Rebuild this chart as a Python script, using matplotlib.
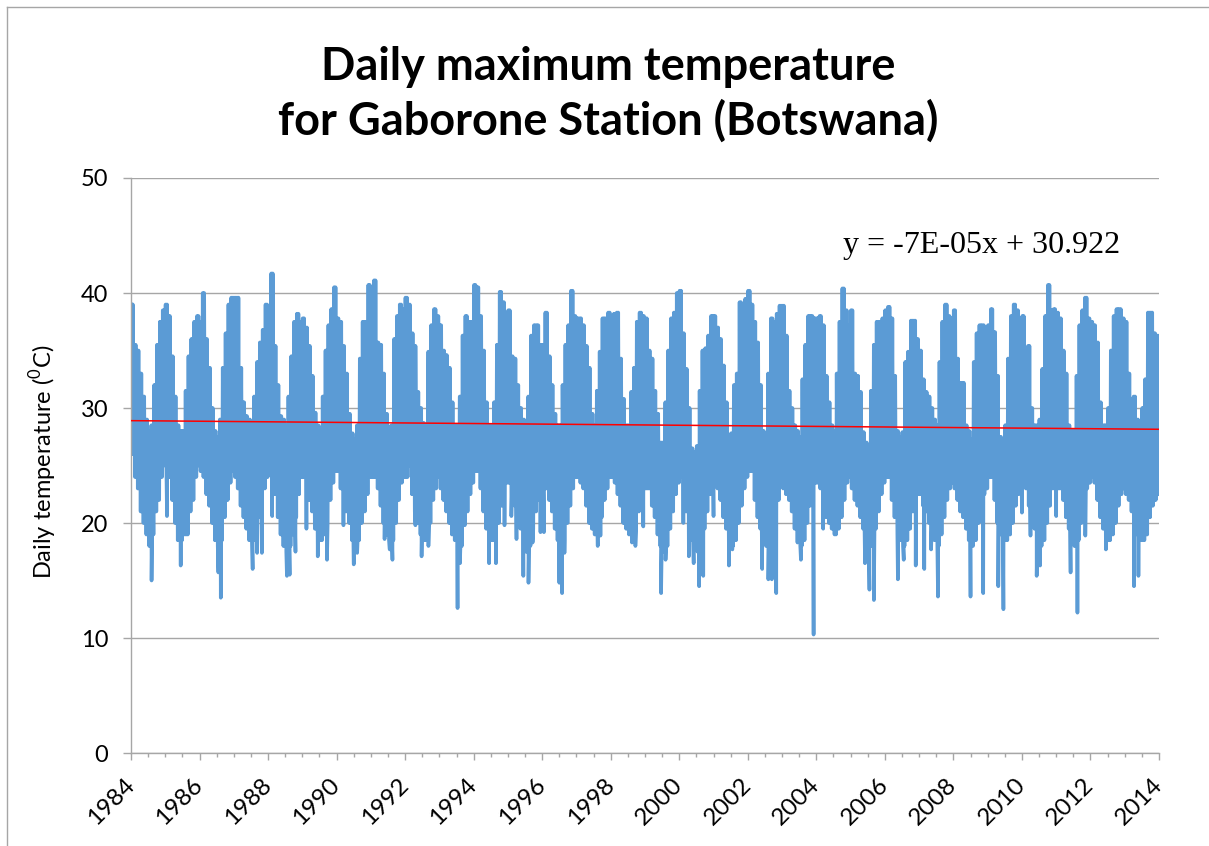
import matplotlib
matplotlib.use("Agg")
import matplotlib.pyplot as plt
from matplotlib.lines import Line2D
from matplotlib.ticker import MultipleLocator
from matplotlib.transforms import ScaledTranslation

plt.rcParams['font.family'] = ['Lato', 'DejaVu Sans']
plt.rcParams['mathtext.fontset'] = 'custom'
plt.rcParams['mathtext.rm'] = 'Lato'

# ---------------- data ----------------
years = list(range(1984, 2014))

# monthly upper extent of daily maxima (Jan..Dec) per year, degC
monthly_hi = [
    [39, 35.5, 35, 33, 31, 29, 28, 28.5, 32, 35.5, 37.5, 38.5],        # 1984
    [39, 38, 34.5, 31, 28.5, 28, 28, 31.5, 34.5, 36, 37.5, 38],         # 1985
    [37.5, 40, 36, 33.5, 30, 28, 27.5, 29, 33.5, 36.5, 39, 39.6],       # 1986
    [39.6, 39.6, 33.5, 30.5, 29.3, 29, 28.5, 31, 34, 35.7, 36.8, 39],   # 1987
    [38.5, 41.7, 35.4, 32, 29.3, 29, 28.5, 31, 34.5, 37.5, 38.2, 37.5], # 1988
    [37.8, 37, 35.4, 32.8, 29.6, 28.5, 28.3, 31, 35, 37.2, 38.6, 40.5], # 1989
    [37.8, 37.5, 35.4, 33, 29.5, 27.8, 27.3, 28.5, 34.3, 37.5, 37.5, 40.7], # 1990
    [40.5, 41.1, 35.7, 35.5, 33, 29.5, 28, 28.5, 36, 38, 39, 38.6],     # 1991
    [39.6, 39, 36.5, 35.4, 31.4, 30, 28.7, 28.5, 34.9, 37.2, 38.6, 38], # 1992
    [37.2, 35, 34.6, 33.5, 30.5, 28.5, 28.5, 31, 36.3, 38, 37.5, 37.5], # 1993
    [40.7, 40.5, 38, 35, 30.5, 28.5, 28.5, 30.5, 35.5, 40.1, 39.2, 38], # 1994
    [38.5, 34.5, 34.3, 32, 30, 29, 28.5, 31, 36.3, 37.2, 37.2, 35.5],   # 1995
    [35.5, 38.3, 34.5, 32, 29.5, 28.5, 28.5, 32, 35.5, 37.2, 40.2, 38], # 1996
    [37.8, 37.8, 37.2, 35.4, 33.5, 29.5, 28.5, 31.5, 34.9, 37.8, 37.8, 38.3], # 1997
    [38, 38.2, 38.3, 34.3, 30.8, 28.5, 28.5, 31.4, 33.5, 37.5, 38.3, 38],     # 1998
    [37.8, 35, 34.3, 31.5, 29.5, 27, 27, 30.5, 35, 37.8, 38.3, 40],     # 1999
    [40.2, 36.5, 33.4, 30, 26.5, 26.2, 26.7, 31.5, 35, 35.2, 36.3, 38], # 2000
    [38, 37, 36, 33.7, 30.5, 27.3, 27.8, 32, 33, 39.2, 38.5, 39.5],     # 2001
    [40.2, 39, 37.5, 35.7, 32, 28, 27.5, 33, 37.8, 37.5, 38.2, 38.9],   # 2002
    [38.9, 36.3, 31.5, 30, 28.5, 28, 27.5, 32.5, 35.5, 38, 38, 37.8],   # 2003
    [37.8, 38, 37.2, 32.8, 30.5, 28.5, 28, 33, 37.5, 40.4, 38.5, 37.2], # 2004
    [38.5, 33, 32.8, 31.4, 27.9, 27, 26.7, 31.5, 35.5, 37.5, 37.5, 37.8], # 2005
    [38.5, 38.8, 37.8, 32.8, 28, 27.5, 27.9, 34, 34.9, 37.6, 37.6, 36], # 2006
    [35, 32.5, 31.4, 31, 30, 29, 28.5, 34, 37.5, 39, 38, 37.8],         # 2007
    [38.5, 34.3, 32.2, 32.2, 28.5, 28, 27.3, 34, 36.5, 37.2, 37.2, 36.5], # 2008
    [37.2, 38.6, 36.6, 32.8, 27.5, 26.8, 28.5, 34.3, 38, 39, 38.5, 37.2], # 2009
    [38, 34.3, 35.4, 30, 28.5, 28.5, 29, 33.4, 38, 40.7, 38.5, 38.6],   # 2010
    [38.3, 37.8, 35, 33, 28.5, 28, 28, 32.8, 37.2, 38.5, 39.6, 37.8],   # 2011
    [37.5, 37.2, 35.7, 30.5, 28.5, 28.5, 30, 35, 38, 38.6, 38.6, 37.8], # 2012
    [37.5, 33, 30.8, 31, 29, 28.5, 30, 32.5, 38.3, 38.3, 36.5, 36.3],   # 2013
]

# monthly lower extent of the dense band (Jan..Dec) per year, degC
monthly_lo = [
    [26, 24, 23, 21, 20, 19, 18, 19, 21, 22, 24, 25],
    [25, 24, 22, 20, 18.5, 18.5, 19, 19, 21, 22, 24, 25],
    [24.5, 24, 22.5, 21.5, 20, 18.5, 18, 18.5, 20.5, 22, 23.5, 24.5],
    [24, 23, 21.5, 20.5, 19.5, 18.5, 18.5, 19, 20.5, 21.5, 23, 24],
    [24.5, 23, 22.5, 20.5, 19, 18, 17.5, 18, 19, 20.5, 22.5, 24],
    [24, 22.5, 22, 21, 19.5, 18.5, 18.5, 19, 20, 22, 23.5, 24.5],
    [24.5, 23, 21.5, 21, 20, 18.5, 18, 18.5, 20, 21, 22.5, 24],
    [24, 24, 23, 21.5, 20, 19, 18.5, 18.5, 20, 22, 23.5, 24],
    [24, 25, 22.5, 21, 20, 19, 18.5, 18.5, 20, 22, 23, 24],
    [23, 22, 21, 20, 19, 18.5, 18, 18, 20, 21, 22.5, 23.5],
    [24.5, 24.5, 23, 21, 19.5, 18.5, 18.5, 18.5, 20, 21.5, 23, 23.5],
    [23.5, 22.5, 21.5, 20.5, 19.5, 18, 17.5, 18, 19.5, 21, 22, 22.5],
    [23, 23, 22, 21, 19.5, 18.5, 18, 18.5, 20, 21.5, 23, 24],
    [24, 23.5, 23, 21.5, 20, 19.5, 19, 19, 20.5, 22, 23, 24],
    [24, 23.5, 22.5, 21.5, 20, 19.5, 19, 19, 19.5, 21, 22.5, 23],
    [23, 23, 21.5, 20.5, 19, 18, 17.5, 18, 19.5, 21, 22.5, 23.5],
    [24, 22.5, 21, 19.5, 18.5, 18, 17.5, 18, 19.5, 21, 22.5, 23.5],
    [23.5, 23, 22, 20.5, 19.5, 18.5, 18, 18.5, 20, 21.5, 23, 24],
    [24.5, 24.5, 22, 20.5, 19.5, 18.5, 18, 18, 19, 20.5, 22, 23.5],
    [23, 22.5, 22, 21, 19.5, 18.5, 18, 18.5, 20, 21.5, 23, 23.5],
    [23.5, 23, 21, 20.5, 20, 19.5, 19, 19.5, 20.5, 22, 23.5, 24],
    [23, 22, 21.5, 20.5, 19.5, 18.5, 18, 18, 19.5, 21, 22.5, 23.5],
    [24, 24, 22, 20.5, 19, 18.5, 18, 18.5, 19.5, 21, 21.5, 22.5],
    [22.5, 21.5, 21, 20, 19.5, 18.5, 18, 19, 20.5, 22, 23, 23.5],
    [23, 22, 21, 20.5, 19.5, 18.5, 18, 18.5, 20, 21.5, 22.5, 23],
    [24, 24, 22, 20, 19, 18.5, 18.5, 19, 20, 21.5, 22.5, 23.5],
    [23.5, 23, 21.5, 20.5, 19.5, 18.5, 18, 18.5, 20, 21.5, 23, 23.5],
    [23, 23, 22, 20.5, 19.5, 18.5, 18, 18.5, 20, 21.5, 23, 23.5],
    [24, 23.5, 22, 20.5, 19.5, 18.5, 18.5, 19, 20, 21.5, 22.5, 23],
    [22.5, 22, 21, 20, 19, 18.5, 18.5, 19, 20.5, 21.5, 22, 22.5],
]

# isolated cold days (decimal year, degC)
spike_t = [1984.6, 1985.05, 1985.45, 1986.55, 1986.62, 1987.55, 1987.68, 1987.82,
           1988.12, 1988.55, 1988.63, 1988.8, 1989.12, 1989.45, 1989.72, 1990.2,
           1990.5, 1990.6, 1991.4, 1991.55, 1991.63, 1992.3, 1992.48, 1992.68,
           1993.53, 1993.6, 1993.74, 1994.45, 1994.65, 1994.9, 1995.1, 1995.25,
           1995.45, 1995.6, 1995.72, 1995.95, 1996.05, 1996.5, 1996.58, 1996.65,
           1997.62, 1997.7, 1998.62, 1998.72, 1998.95, 1999.47, 1999.6, 2000.12,
           2000.28, 2000.42, 2000.58, 2000.7, 2001.0, 2001.45, 2001.55, 2002.42,
           2002.6, 2002.7, 2002.83, 2003.45, 2003.55, 2003.92, 2004.2, 2004.58,
           2005.42, 2005.55, 2005.68, 2006.38, 2006.55, 2006.9, 2007.15, 2007.35,
           2007.55, 2008.5, 2008.87, 2009.31, 2009.46, 2010.0, 2010.25, 2010.43,
           2010.53, 2011.0, 2011.42, 2011.62, 2011.85, 2012.45, 2013.27, 2013.4]
spike_v = [15.0, 20.6, 16.3, 15.7, 13.5, 16.0, 17.4, 17.4,
           20.6, 15.4, 15.5, 17.5, 19.5, 17.1, 16.8, 19.8,
           16.4, 17.4, 18.6, 17.7, 16.8, 19.8, 17.1, 18.0,
           12.6, 16.5, 19.8, 16.5, 16.5, 19.8, 20.6, 18.6,
           15.4, 14.8, 18.3, 19.2, 19.2, 14.8, 13.9, 17.4,
           18.0, 18.9, 18.3, 18.0, 19.7, 13.9, 16.8, 20.0,
           17.1, 16.5, 14.5, 15.4, 20.6, 16.3, 17.7, 16.0,
           15.1, 15.1, 13.9, 18.3, 16.8, 10.3, 19.5, 19.2,
           16.5, 14.2, 13.3, 15.1, 16.8, 16.3, 16.0, 17.7,
           13.6, 13.6, 13.9, 14.5, 12.5, 20.9, 18.9, 15.4,
           16.3, 20.6, 15.7, 12.2, 18.9, 17.7, 14.5, 15.4]

# linear trend line as drawn (value at 1984 and at 2014)
trend_years = [1984, 2014]
trend_vals = [28.9, 28.15]
trend_label = "y = -7E-05x + 30.922"

y_ticks = [0, 10, 20, 30, 40, 50]
x_ticks = list(range(1984, 2015, 2))

# ---------------- build series ----------------
# each month's band is traced twice (top, bottom, top, bottom) like the daily zig-zag
pts = []
for i, yr in enumerate(years):
    for m in range(12):
        for k in range(2):
            pts.append((yr + (m + 0.125 + 0.5 * k) / 12.0, monthly_hi[i][m]))
            pts.append((yr + (m + 0.375 + 0.5 * k) / 12.0, monthly_lo[i][m]))
for t, v in zip(spike_t, spike_v):
    pts.append((t, v))
pts.sort(key=lambda p: p[0])
ts = [p[0] for p in pts]
vs = [p[1] for p in pts]

# ---------------- figure ----------------
W, H = 1209, 846
fig = plt.figure(figsize=(W / 100, H / 100), dpi=100)
ax = fig.add_axes([131 / W, 1 - 753 / H, (1159 - 131) / W, (753 - 178) / H])

grid_c = '#a6a6a6'
ax.plot(ts, vs, color='#5B9BD5', lw=2.6, solid_joinstyle='round', zorder=2)
ax.plot(trend_years, trend_vals, color='#FF0000', lw=1.1, zorder=3)

ax.set_xlim(1984, 2014)
ax.set_ylim(0, 50)
ax.set_yticks(y_ticks)
ax.set_xticks(x_ticks)
ax.xaxis.set_minor_locator(MultipleLocator(0.5))
ax.set_yticklabels([str(v) for v in y_ticks], fontsize=17)
ax.set_xticklabels([str(v) for v in x_ticks], fontsize=17.5, rotation=45,
                   ha='right', va='center', rotation_mode='anchor')
shift = ScaledTranslation(4 / 100, 0, fig.dpi_scale_trans)
for lab in ax.get_xticklabels():
    lab.set_transform(lab.get_transform() + shift)

for s in ['top', 'right']:
    ax.spines[s].set_visible(False)
for s in ['left', 'bottom']:
    ax.spines[s].set_color(grid_c)
    ax.spines[s].set_linewidth(1.0)
ax.grid(axis='y', color=grid_c, lw=1.0)
ax.set_axisbelow(True)
ax.tick_params(axis='y', which='major', length=5.5, width=1.0, color=grid_c, pad=11)
ax.tick_params(axis='x', which='major', length=5, width=1.0, color=grid_c, pad=15.5)
ax.tick_params(axis='x', which='minor', length=3, width=1.0, color=grid_c)

fig.text(43 / W, 1 - 462 / H, 'Daily temperature ($^{0}$C)', rotation=90,
         ha='center', va='center', fontsize=17)

fig.text(608 / W, 1 - 80 / H, 'Daily maximum temperature', ha='center',
         va='baseline', fontsize=32.5, fontweight='bold')
fig.text(608 / W, 1 - 135 / H, 'for Gaborone Station (Botswana)', ha='center',
         va='baseline', fontsize=32.5, fontweight='bold')

fig.text(843 / W, 1 - 253 / H, trend_label, ha='left', va='baseline',
         fontsize=23, family=['Liberation Serif', 'DejaVu Serif'])

# chart-area border (top and left edges visible)
fig.add_artist(Line2D([7 / W, 7 / W], [0, 1 - 7 / H], color=grid_c, lw=1.0,
                      transform=fig.transFigure))
fig.add_artist(Line2D([7 / W, 1], [1 - 7 / H, 1 - 7 / H], color=grid_c, lw=1.0,
                      transform=fig.transFigure))

fig.savefig('out.png', dpi=100)
